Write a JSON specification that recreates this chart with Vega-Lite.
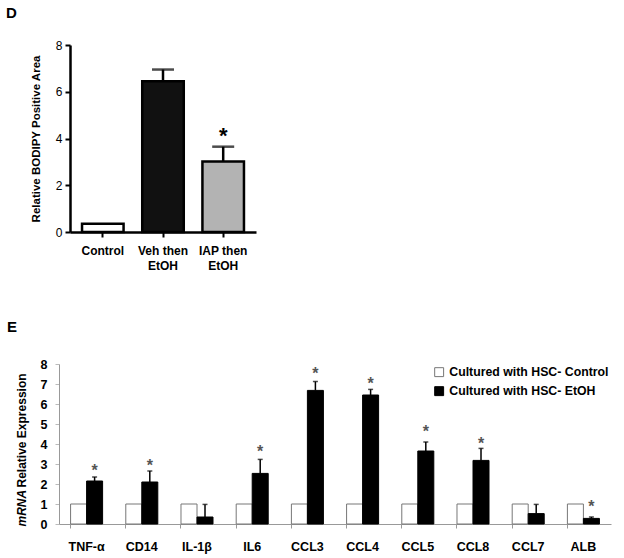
{
  "$schema": "https://vega.github.io/schema/vega-lite/v6.json",
  "background": "white",
  "padding": {"left": 5, "top": 6, "right": 5, "bottom": 5},
  "spacing": 49,
  "columns": 1,
  "align": "none",
  "config": {
    "font": "Liberation Sans",
    "view": {"stroke": null},
    "axis": {"grid": false, "labelFont": "Liberation Sans", "titleFont": "Liberation Sans", "labelOverlap": false}
  },
  "resolve": {"scale": {"fill": "independent", "stroke": "independent"}},
  "concat": [
    {
      "title": {"text": "D", "anchor": "start", "fontSize": 15, "fontWeight": "bold", "dx": -24, "offset": 18},
      "width": 197,
      "height": 187,
      "data": {"values": [
        {"group": "Control", "value": 0.35, "upper": null, "star": null},
        {"group": "Veh then EtOH", "value": 6.45, "upper": 6.95, "star": null},
        {"group": "IAP then EtOH", "value": 3.02, "upper": 3.65, "star": 4.3}
      ]},
      "encoding": {
        "x": {"field": "group", "type": "nominal", "sort": null,
          "scale": {"range": [11, 197], "paddingInner": 0.31, "paddingOuter": 0.2},
          "axis": {"title": null, "labelAngle": 0, "labelFontSize": 12, "labelFontWeight": "bold", "labelColor": "black",
            "domainColor": "black", "domainWidth": 2.5, "tickColor": "black", "tickWidth": 2, "tickSize": 5, "labelPadding": 8,
            "labelLineHeight": 15,
            "labelExpr": "datum.label == 'Control' ? 'Control' : [replace(datum.label, ' EtOH', ''), 'EtOH']"}}
      },
      "layer": [
        {
          "mark": {"type": "bar", "stroke": "black", "strokeWidth": 2.5},
          "encoding": {
            "y": {"field": "value", "type": "quantitative", "scale": {"domain": [0, 8]},
              "axis": {"title": "Relative BODIPY Positive Area", "titleFontSize": 11.5, "titleFontWeight": "bold", "titleColor": "black",
                "titleX": -34, "titleBaseline": "middle", "offset": -11,
                "values": [0, 2, 4, 6, 8], "labelFontSize": 12, "labelColor": "black", "labelPadding": 3,
                "domainColor": "black", "domainWidth": 2.5, "tickColor": "black", "tickWidth": 2, "tickSize": 5}},
            "fill": {"field": "group", "type": "nominal", "sort": null, "legend": null,
              "scale": {"domain": ["Control", "Veh then EtOH", "IAP then EtOH"], "range": ["white", "#111111", "#b3b3b3"]}}
          }
        },
        {
          "transform": [{"filter": "datum.upper != null"}],
          "mark": {"type": "rule", "color": "black", "strokeWidth": 2.5},
          "encoding": {"y": {"field": "value", "type": "quantitative"}, "y2": {"field": "upper"}}
        },
        {
          "transform": [{"filter": "datum.upper != null"}],
          "mark": {"type": "tick", "color": "black", "thickness": 2.5, "size": 22, "orient": "horizontal"},
          "encoding": {"y": {"field": "upper", "type": "quantitative"}}
        },
        {
          "transform": [{"filter": "datum.star != null"}],
          "mark": {"type": "text", "text": "*", "fontSize": 22, "fontWeight": "bold", "baseline": "middle", "dy": 5, "color": "black"},
          "encoding": {"y": {"field": "star", "type": "quantitative"}}
        }
      ]
    },
    {
      "title": {"text": "E", "anchor": "start", "fontSize": 15, "fontWeight": "bold", "dx": -8, "offset": 23},
      "width": 552,
      "height": 160,
      "data": {"values": [
        {"gene": "TNF-α", "group": "Cultured with HSC- Control", "value": 1.0, "upper": null, "star": null},
        {"gene": "TNF-α", "group": "Cultured with HSC- EtOH", "value": 2.15, "upper": 2.35, "star": 2.85},
        {"gene": "CD14", "group": "Cultured with HSC- Control", "value": 1.0, "upper": null, "star": null},
        {"gene": "CD14", "group": "Cultured with HSC- EtOH", "value": 2.1, "upper": 2.65, "star": 3.1},
        {"gene": "IL-1β", "group": "Cultured with HSC- Control", "value": 1.0, "upper": null, "star": null},
        {"gene": "IL-1β", "group": "Cultured with HSC- EtOH", "value": 0.35, "upper": 0.98, "star": null},
        {"gene": "IL6", "group": "Cultured with HSC- Control", "value": 1.0, "upper": null, "star": null},
        {"gene": "IL6", "group": "Cultured with HSC- EtOH", "value": 2.53, "upper": 3.23, "star": 3.8},
        {"gene": "CCL3", "group": "Cultured with HSC- Control", "value": 1.0, "upper": null, "star": null},
        {"gene": "CCL3", "group": "Cultured with HSC- EtOH", "value": 6.68, "upper": 7.12, "star": 7.7},
        {"gene": "CCL4", "group": "Cultured with HSC- Control", "value": 1.0, "upper": null, "star": null},
        {"gene": "CCL4", "group": "Cultured with HSC- EtOH", "value": 6.45, "upper": 6.73, "star": 7.2},
        {"gene": "CCL5", "group": "Cultured with HSC- Control", "value": 1.0, "upper": null, "star": null},
        {"gene": "CCL5", "group": "Cultured with HSC- EtOH", "value": 3.65, "upper": 4.1, "star": 4.8},
        {"gene": "CCL8", "group": "Cultured with HSC- Control", "value": 1.0, "upper": null, "star": null},
        {"gene": "CCL8", "group": "Cultured with HSC- EtOH", "value": 3.18, "upper": 3.78, "star": 4.2},
        {"gene": "CCL7", "group": "Cultured with HSC- Control", "value": 1.0, "upper": null, "star": null},
        {"gene": "CCL7", "group": "Cultured with HSC- EtOH", "value": 0.52, "upper": 0.98, "star": null},
        {"gene": "ALB", "group": "Cultured with HSC- Control", "value": 1.0, "upper": null, "star": null},
        {"gene": "ALB", "group": "Cultured with HSC- EtOH", "value": 0.28, "upper": 0.35, "star": 1.07}
      ]},
      "resolve": {"axis": {"y": "independent"}},
      "encoding": {
        "x": {"field": "gene", "type": "nominal", "sort": null,
          "scale": {"paddingInner": 0.42, "paddingOuter": 0.21},
          "axis": {"title": null, "labelAngle": 0, "labelFontSize": 12.5, "labelFontWeight": "bold", "labelColor": "black",
            "domainColor": "#999999", "domainWidth": 1, "tickColor": "#999999", "tickSize": 4, "bandPosition": 0, "labelPadding": 12}},
        "xOffset": {"field": "group", "type": "nominal", "sort": null, "scale": {"paddingInner": 0, "paddingOuter": 0}}
      },
      "layer": [
        {
          "mark": {"type": "bar", "strokeWidth": 1},
          "encoding": {
            "y": {"field": "value", "type": "quantitative", "scale": {"domain": [0, 8]},
              "axis": {"title": "Relative Expression", "titleFontSize": 12, "titleFontWeight": "bold", "titleColor": "black",
                "titleX": -38, "titleY": 123, "titleAlign": "left", "titleAngle": 270, "titleBaseline": "middle",
                "values": [0, 1, 2, 3, 4, 5, 6, 7, 8], "labelFontSize": 12.5, "labelFontWeight": "bold", "labelColor": "black", "labelPadding": 8,
                "domainColor": "#999999", "tickColor": "#bbbbbb", "tickSize": 4}},
            "fill": {"field": "group", "type": "nominal", "sort": null,
              "scale": {"domain": ["Cultured with HSC- Control", "Cultured with HSC- EtOH"], "range": ["white", "black"]},
              "legend": {"title": null, "orient": "top-right", "offset": 2, "padding": 0, "symbolType": "square", "symbolSize": 80,
                "labelFontSize": 12.3, "labelFontWeight": "bold", "labelColor": "black", "rowPadding": 5, "symbolStrokeWidth": 1, "labelLimit": 400}},
            "stroke": {"field": "group", "type": "nominal", "sort": null,
              "scale": {"domain": ["Cultured with HSC- Control", "Cultured with HSC- EtOH"], "range": ["#777777", "black"]}}
          }
        },
        {
          "transform": [{"filter": "datum.upper != null"}],
          "mark": {"type": "rule", "color": "black", "strokeWidth": 1.5},
          "encoding": {"y": {"field": "value", "type": "quantitative", "axis": null}, "y2": {"field": "upper"}}
        },
        {
          "transform": [{"filter": "datum.upper != null"}],
          "mark": {"type": "tick", "color": "black", "thickness": 1.5, "size": 5, "orient": "horizontal"},
          "encoding": {"y": {"field": "upper", "type": "quantitative", "axis": null}}
        },
        {
          "transform": [{"filter": "datum.star != null"}],
          "mark": {"type": "text", "text": "*", "fontSize": 16, "fontWeight": "bold", "baseline": "middle", "dy": 4, "color": "#555555"},
          "encoding": {"y": {"field": "star", "type": "quantitative",
            "axis": {"orient": "right", "labels": false, "ticks": false, "domain": false,
              "title": "mRNA", "titleFontSize": 12, "titleFontWeight": "bold", "titleFontStyle": "italic", "titleColor": "black",
              "titleX": -590, "titleY": 162, "titleAlign": "left", "titleAngle": 270, "titleBaseline": "middle"}}}
        }
      ]
    }
  ]
}
